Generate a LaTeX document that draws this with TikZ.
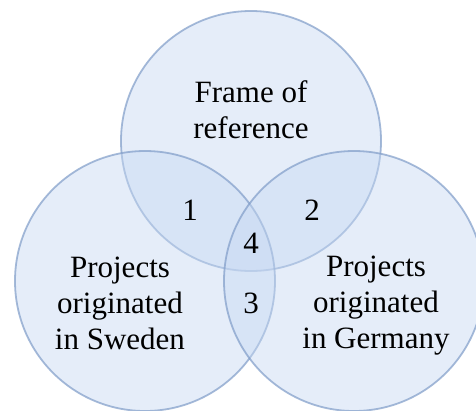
\documentclass[tikz,border=0pt]{standalone}
\usepackage{fontspec}
\setmainfont{Liberation Serif}
\definecolor{setfill}{HTML}{C6D8F2}
\definecolor{setline}{HTML}{7F9CC8}
\begin{document}
\begin{tikzpicture}[x=1pt,y=-1pt,
  setcircle/.style={circle, draw=setline, line width=1.8pt, draw opacity=0.7,
    fill=setfill, fill opacity=0.45, inner sep=0pt, minimum size=260pt},
  label/.style={font=\fontsize{31}{36}\selectfont, align=center, inner sep=0pt, text=black}]
  \useasboundingbox (0,0) rectangle (476,410);
  \clip (0,0) rectangle (476,410);
  % the three sets
  \node[setcircle] (frame) at (251,141) {};
  \node[setcircle] (sweden) at (145,281) {};
  \node[setcircle] (germany) at (354,281) {};
  % set names
  \node[label] (frametext) at (251,110) {Frame of\\reference};
  \node[label] (swedentext) at (120,303) {Projects\\originated\\in Sweden};
  \node[label] (germanytext) at (376,306) {Projects\\originated\\in Germany};
  % intersection numbers
  \node[label] (n1) at (190,210) {1};
  \node[label] (n2) at (312,210) {2};
  \node[label] (n4) at (251,243) {4};
  \node[label] (n3) at (251,303) {3};
\end{tikzpicture}
\end{document}
